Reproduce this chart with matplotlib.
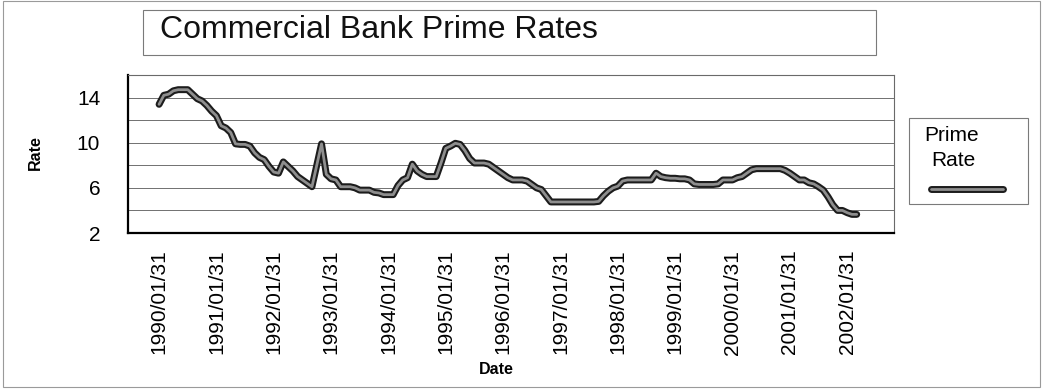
import numpy as np
import pandas as pd
import matplotlib
matplotlib.use("Agg")
import matplotlib.pyplot as plt
import matplotlib.patheffects as pe
from matplotlib.patches import Rectangle
from matplotlib.lines import Line2D

plt.rcParams['font.family'] = ['Liberation Sans', 'DejaVu Sans']

# Monthly prime rate observations, Jan 1990 - Mar 2002
rates = [
    13.4, 14.2, 14.3, 14.6, 14.7, 14.7, 14.7, 14.3, 13.9, 13.7, 13.3, 12.8,   # 1990
    12.4, 11.5, 11.3, 10.9, 9.9, 9.85, 9.85, 9.7, 9.1, 8.7, 8.5, 7.9,         # 1991
    7.4, 7.3, 8.3, 7.9, 7.5, 7.0, 6.7, 6.4, 6.1, 8.0, 9.9, 7.2,               # 1992
    6.8, 6.7, 6.1, 6.1, 6.1, 6.0, 5.8, 5.8, 5.8, 5.6, 5.55, 5.4,              # 1993
    5.4, 5.4, 6.2, 6.7, 6.9, 8.1, 7.5, 7.2, 7.0, 7.0, 7.0, 8.2,               # 1994
    9.5, 9.7, 9.95, 9.85, 9.3, 8.6, 8.2, 8.2, 8.2, 8.1, 7.8, 7.5,             # 1995
    7.2, 6.9, 6.7, 6.7, 6.7, 6.6, 6.3, 6.0, 5.85, 5.3, 4.75, 4.75,            # 1996
    4.75, 4.75, 4.75, 4.75, 4.75, 4.75, 4.75, 4.75, 4.8, 5.3, 5.7, 6.0,       # 1997
    6.15, 6.6, 6.7, 6.7, 6.7, 6.7, 6.7, 6.7, 7.3, 7.0, 6.9, 6.85,             # 1998
    6.85, 6.8, 6.8, 6.7, 6.35, 6.3, 6.3, 6.3, 6.3, 6.35, 6.7, 6.7,            # 1999
    6.7, 6.9, 7.0, 7.3, 7.6, 7.7, 7.7, 7.7, 7.7, 7.7, 7.7, 7.55,              # 2000
    7.3, 7.0, 6.7, 6.7, 6.45, 6.35, 6.1, 5.8, 5.2, 4.5, 4.0, 4.0,             # 2001
    3.8, 3.65, 3.65,                                                          # 2002
]
dates = pd.date_range("1990-01-31", periods=len(rates), freq="ME")
tick_labels = [d.strftime("%Y/%m/%d") for d in dates[::12]]
y_ticks = [2, 6, 10, 14]
y_grid = [4, 6, 8, 10, 12, 14, 16]

W, H = 1043, 391
fig = plt.figure(figsize=(W / 100, H / 100), dpi=100)


def fx(px):
    return px / W


def fy(py):
    return 1 - py / H


# outer frame
fig.add_artist(Rectangle((fx(3), fy(387)), fx(1040) - fx(3), fy(1) - fy(387),
                         transform=fig.transFigure, fill=False,
                         edgecolor='#9a9a9a', linewidth=0.8))

# title box
fig.add_artist(Rectangle((fx(143), fy(55)), fx(876) - fx(143), fy(10) - fy(55),
                         transform=fig.transFigure, fill=False,
                         edgecolor='#7a7a7a', linewidth=0.8))
fig.text(fx(160), fy(38), "Commercial Bank Prime Rates", fontsize=23,
         ha='left', va='baseline', color='#111111')

ax = fig.add_axes([fx(128), fy(233), fx(894) - fx(128), fy(75) - fy(233)])
x = np.arange(len(rates))
ax.plot(x, rates, color='#8e8e8e', linewidth=2.0, solid_capstyle='round',
        solid_joinstyle='round',
        path_effects=[pe.Stroke(linewidth=5.0, foreground='#1c1c1c',
                                capstyle='round', joinstyle='round'),
                      pe.Normal()], zorder=3)

for g in y_grid:
    ax.axhline(g, color='#5a5a5a', linewidth=0.6, zorder=1)

ax.set_xlim(-6.5, 153.8)
ax.set_ylim(2, 16)
ax.set_yticks(y_ticks)
ax.set_yticklabels([str(v) for v in y_ticks], fontsize=15)
ax.set_xticks(x[::12])
ax.set_xticklabels(tick_labels, rotation=90, fontsize=15, ha='center', va='top')
ax.tick_params(axis='both', length=0)
ax.tick_params(axis='y', pad=20)
ax.tick_params(axis='x', pad=12)

for side in ('left', 'bottom'):
    ax.spines[side].set_color('#000000')
    ax.spines[side].set_linewidth(1.6)
for side in ('top', 'right'):
    ax.spines[side].set_color('#6a6a6a')
    ax.spines[side].set_linewidth(0.8)

fig.text(fx(35), fy(153), "Rate", rotation=90, fontsize=11.5, fontweight='bold',
         ha='center', va='center')
fig.text(fx(496), fy(370), "Date", fontsize=11.5, fontweight='bold',
         ha='center', va='center')

# legend
fig.add_artist(Rectangle((fx(909), fy(204)), fx(1028) - fx(909), fy(118) - fy(204),
                         transform=fig.transFigure, fill=False,
                         edgecolor='#7a7a7a', linewidth=0.8))
fig.text(fx(924), fy(135), "Prime", fontsize=15, ha='left', va='center')
fig.text(fx(931), fy(161), "Rate", fontsize=15, ha='left', va='center')
fig.add_artist(Line2D([fx(931), fx(1003)], [fy(189), fy(189)],
                      transform=fig.transFigure, color='#8e8e8e', linewidth=2.0,
                      solid_capstyle='round',
                      path_effects=[pe.Stroke(linewidth=5.0, foreground='#1c1c1c',
                                              capstyle='round'),
                                    pe.Normal()]))

fig.savefig("out.png", dpi=100)
